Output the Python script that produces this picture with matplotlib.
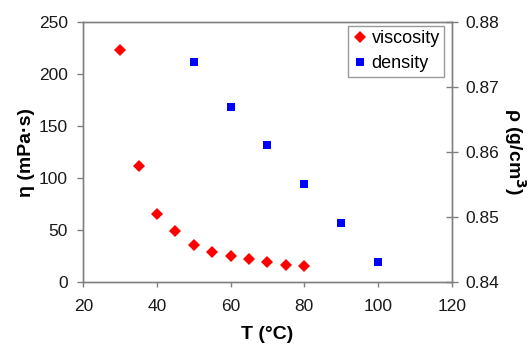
import matplotlib
matplotlib.use("Agg")
from matplotlib import pyplot as plt

plt.rcParams['font.family'] = ['Liberation Sans', 'DejaVu Sans']

# viscosity data (left axis)
T_visc = [30, 35, 40, 45, 50, 55, 60, 65, 70, 75, 80]
visc = [223.6, 111.6, 65.3, 48.6, 35.5, 29, 25.2, 21.7, 18.8, 15.9, 15.2]

# density data (right axis)
T_dens = [50, 60, 70, 80, 90, 100]
dens = [0.8739, 0.8669, 0.8611, 0.8550, 0.8491, 0.8430]

x_ticks = [20, 40, 60, 80, 100, 120]
visc_ticks = [0, 50, 100, 150, 200, 250]
dens_ticks = [0.84, 0.85, 0.86, 0.87, 0.88]

frame_col = '#808080'
W, H = 530, 344

fig = plt.figure(figsize=(W/100, H/100), dpi=100)
ax = fig.add_axes([83.3/W, (H-281.8)/H, 368.4/W, 259.5/H])
ax2 = ax.twinx()

h1, = ax.plot(T_visc, visc, linestyle='none', marker='D', color='#ff0000',
              markersize=5.7, markeredgewidth=0, label='viscosity')
h2, = ax2.plot(T_dens, dens, linestyle='none', marker='s', color='#0000ff',
               markersize=6.3, markeredgewidth=0, label='density')

ax.set_xlim(20, 120)
ax.set_ylim(0, 250)
ax2.set_ylim(0.84, 0.88)
ax.set_xticks(x_ticks)
ax.set_yticks(visc_ticks)
ax2.set_yticks(dens_ticks)
ax2.set_yticklabels(['%.2f' % v for v in dens_ticks])

for a in (ax, ax2):
    for s in a.spines.values():
        s.set_color(frame_col)
        s.set_linewidth(1.0)
ax.tick_params(axis='y', direction='out', length=4.5, width=1, color=frame_col,
               labelsize=12.5, labelcolor='#1a1a1a', pad=6.5)
ax.tick_params(axis='x', direction='out', length=3.3, width=1, color=frame_col,
               labelsize=12.5, labelcolor='#1a1a1a', pad=9)
ax2.tick_params(axis='y', direction='inout', length=8, width=1, color=frame_col,
                labelsize=12.5, labelcolor='#1a1a1a', pad=6)

ax.set_xlabel('T (°C)', fontsize=14, fontweight='bold', labelpad=9)
ax.set_ylabel('η (mPa·s)', fontsize=14, fontweight='bold', labelpad=3)
ax2.set_ylabel('ρ (g/cm$^\\mathbf{3}$)', fontsize=14, fontweight='bold',
               rotation=270, labelpad=2)
ax2.yaxis.label.set_verticalalignment('bottom')

leg = ax.legend(handles=[h1, h2], loc='upper right', fontsize=13,
                frameon=True, fancybox=False, borderpad=0.25,
                handletextpad=0.25, handlelength=0.8, labelspacing=0.45,
                bbox_to_anchor=(0.98, 0.987), borderaxespad=0)
leg.get_frame().set_edgecolor(frame_col)
leg.get_frame().set_linewidth(1.0)

fig.savefig('out.png', dpi=100)
